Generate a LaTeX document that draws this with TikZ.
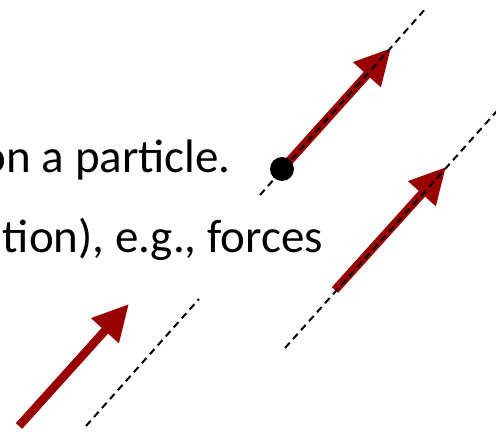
\documentclass[tikz,border=0pt]{standalone}
\usepackage{fontspec}
\setmainfont{Carlito}
\usetikzlibrary{arrows.meta}
\usepackage{xcolor}
\definecolor{forcered}{HTML}{990000}

\begin{document}
\begin{tikzpicture}[x=1pt, y=-1pt,
    slidetext/.style={font=\fontsize{47}{56}\selectfont, inner sep=0pt, anchor=base east},
    force/.style={forcered, line width=8.5pt, -{Triangle[length=36pt, width=35pt]}},
    actionline/.style={black, line width=2pt, dash pattern=on 7pt off 5pt}]
  \useasboundingbox (0,0) rectangle (496,433);
  \clip (0,0) rectangle (496,433);

  % Slide text, cut off at the left edge
  \node[slidetext] (lineone)   at (231,173) {on a particle.};
  \node[slidetext] (linetwo)   at (323,253) {tion), e.g., forces};
  \node[slidetext] (linethree) at (3,397)   {.};

  % Ends of the forces and of their lines of action
  \coordinate (tailA) at (282,169);
  \coordinate (tipA)  at (391,48);
  \coordinate (tailB) at (335,290);
  \coordinate (tipB)  at (446,167);
  \coordinate (tailC) at (19,426);
  \coordinate (tipC)  at (129,304);

  \coordinate (lineAlow)  at (260,195);
  \coordinate (lineAhigh) at (427,7);
  \coordinate (lineBlow)  at (285,348);
  \coordinate (lineBhigh) at (505,102);
  \coordinate (lineClow)  at (86,426);
  \coordinate (lineChigh) at (199,299);

  % The three forces
  \draw[force] (tailA) -- (tipA);
  \draw[force] (tailB) -- (tipB);
  \draw[force] (tailC) -- (tipC);

  % Lines of action
  \draw[actionline] (lineAlow) -- (lineAhigh);
  \draw[actionline] (lineBlow) -- (lineBhigh);
  \draw[actionline] (lineClow) -- (lineChigh);

  % The particle
  \node[circle, fill=black, inner sep=0pt, minimum size=24pt] (particle) at (tailA) {};
\end{tikzpicture}
\end{document}
